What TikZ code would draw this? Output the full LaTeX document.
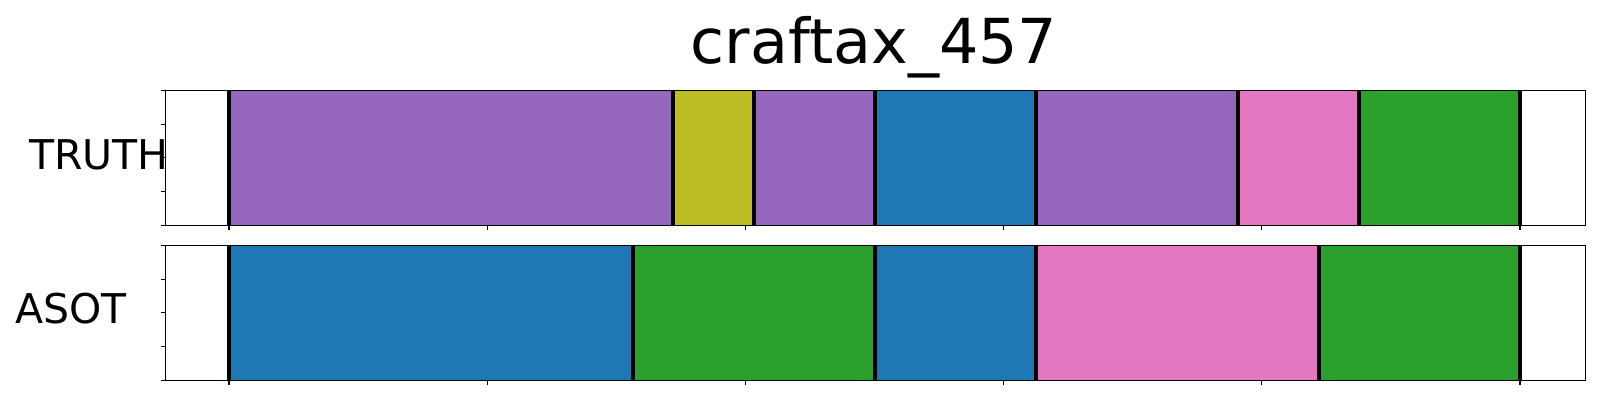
\documentclass[tikz,border=0pt]{standalone}
\usepackage{fontspec}
\setmainfont{DejaVu Sans}
\definecolor{tpurple}{HTML}{9467BD}
\definecolor{tolive}{HTML}{BCBD22}
\definecolor{tblue}{HTML}{1F77B4}
\definecolor{tgreen}{HTML}{2CA02C}
\definecolor{tpink}{HTML}{E377C2}
\begin{document}
\begin{tikzpicture}[x=1pt,y=-1pt,
  bound/.style={line width=3.9pt,black},
  spine/.style={line width=1.1pt,black},
  tickmark/.style={line width=1.1pt,black},
  lbl/.style={inner sep=0pt,outer sep=0pt,font=\fontsize{41}{41}\selectfont}
]
\useasboundingbox[fill=white] (0,0) rectangle (1600,400);
% title
\node[inner sep=0pt,anchor=base,font=\fontsize{62}{62}\selectfont] (title) at (874,63.3) {craftax\_457};
% labels
\node[lbl,anchor=base west] (truth) at (29,169.3) {TRUTH};
\node[lbl,anchor=base west] (asot) at (15.2,323.3) {ASOT};
% top segments
\def\ta{90.3}\def\tb{225.3}
\foreach \xa/\xb/\c in {229/672.7/tpurple,672.7/753.7/tolive,753.7/875/tpurple,875/1035.7/tblue,1035.7/1237.7/tpurple,1237.7/1359/tpink,1359/1520/tgreen}
  \fill[\c] (\xa,\ta) rectangle (\xb,\tb);
\foreach \xb in {229,672.7,753.7,875,1035.7,1237.7,1359,1520}
  \draw[bound] (\xb,\ta) -- (\xb,\tb);
% bottom segments
\def\ba{245.3}\def\bb{380.3}
\foreach \xa/\xb/\c in {229/633/tblue,633/875/tgreen,875/1035.7/tblue,1035.7/1318.7/tpink,1318.7/1520/tgreen}
  \fill[\c] (\xa,\ba) rectangle (\xb,\bb);
\foreach \xb in {229,633,875,1035.7,1318.7,1520}
  \draw[bound] (\xb,\ba) -- (\xb,\bb);
% spines
\draw[spine] (165.7,\ta) rectangle (1585.7,\tb);
\draw[spine] (165.7,\ba) rectangle (1585.7,\bb);
% x ticks
\foreach \k in {0,...,5}{
  \draw[tickmark] ({229+\k*258.2},\tb) -- ++(0,4.9);
  \draw[tickmark] ({229+\k*258.2},\bb) -- ++(0,4.9);
}
% y ticks
\foreach \k in {0,...,4}{
  \draw[tickmark] (165.7,{\ta+\k*33.75}) -- ++(-4.9,0);
  \draw[tickmark] (165.7,{\ba+\k*33.75}) -- ++(-4.9,0);
}
\end{tikzpicture}
\end{document}
